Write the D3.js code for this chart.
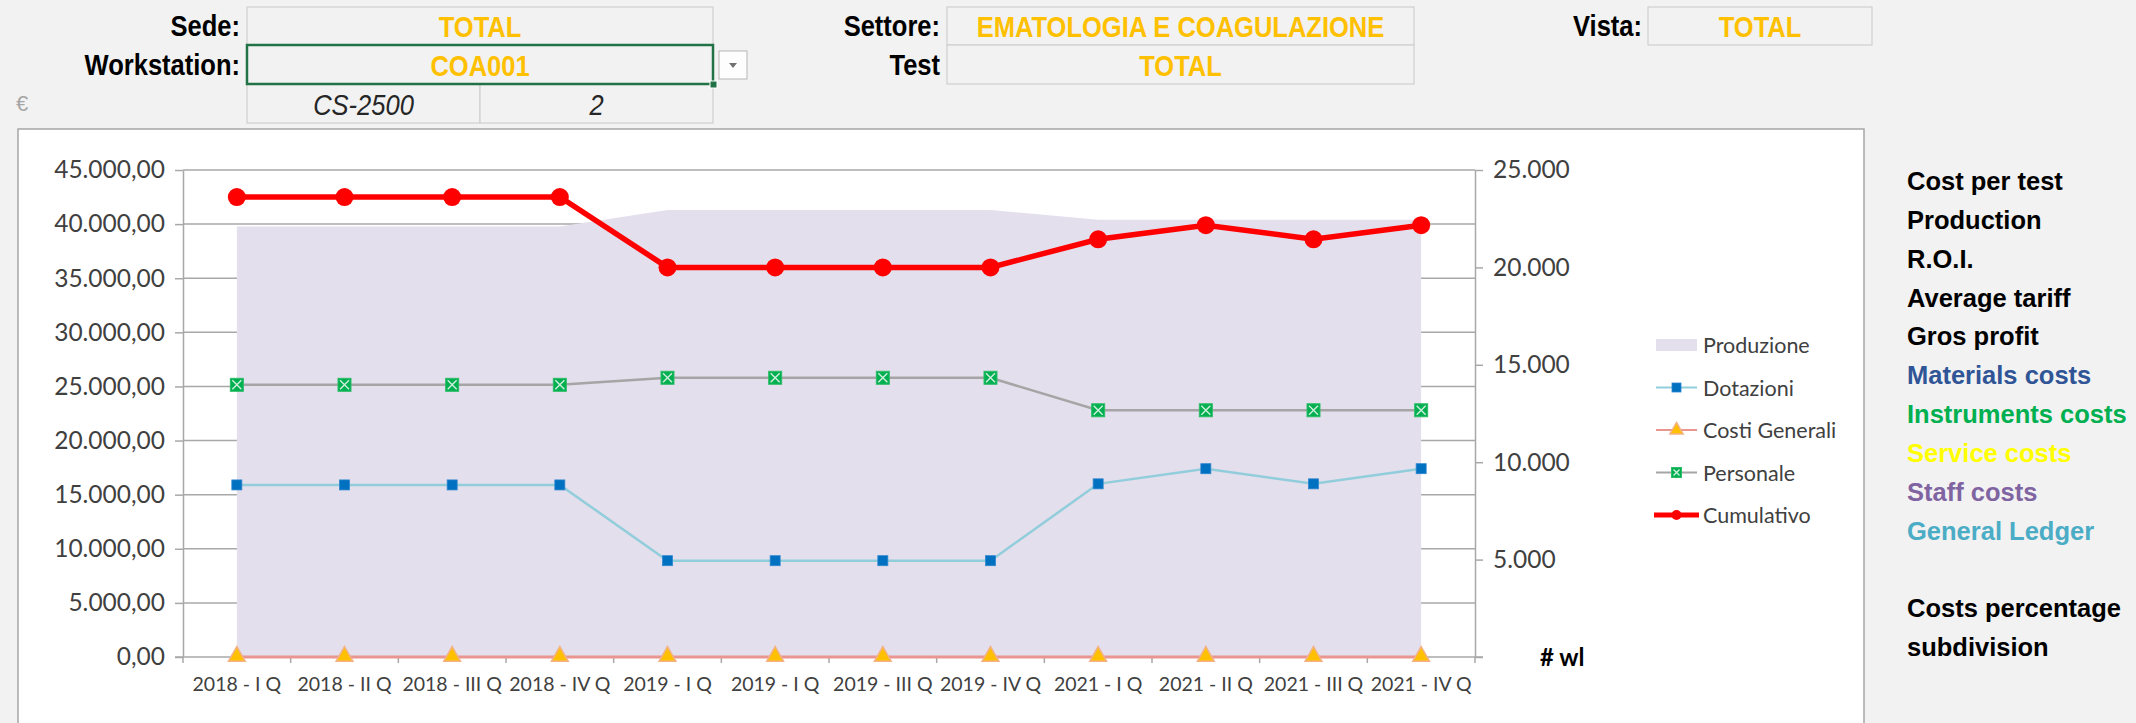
<!DOCTYPE html>
<html>
<head>
<meta charset="utf-8">
<script src="https://cdn.jsdelivr.net/npm/d3@7"></script>
<style>
  body { margin: 0; background: #f2f2f2; overflow: hidden; }
  .hdr { font-family: "Liberation Sans Narrow", "Arial Narrow", sans-serif; font-weight: bold; font-size: 29px; }
  .chart-text { font-family: Lato, "Open Sans", sans-serif; fill: #404040; }
  .side { font-family: "Liberation Sans", Arial, sans-serif; font-weight: bold; font-size: 25.5px; }
</style>
</head>
<body>
<div id="chart"></div>
<script>
// quarters on the x axis
const categories = ["2018 - I Q", "2018 - II Q", "2018 - III Q", "2018 - IV Q",
                    "2019 - I Q", "2019 - I Q", "2019 - III Q", "2019 - IV Q",
                    "2021 - I Q", "2021 - II Q", "2021 - III Q", "2021 - IV Q"];

// series (left axis, euro)
const dotazioni     = [15900, 15900, 15900, 15900, 8900, 8900, 8900, 8900, 16000, 17400, 16000, 17400];
const costiGenerali = [0, 0, 0, 0, 0, 0, 0, 0, 0, 0, 0, 0];
const personale     = [25150, 25150, 25150, 25150, 25800, 25800, 25800, 25800, 22800, 22800, 22800, 22800];
const cumulativo    = [42500, 42500, 42500, 42500, 36000, 36000, 36000, 36000, 38600, 39900, 38600, 39900];
// series (right axis, # wl)
const produzione    = [22100, 22100, 22100, 22100, 22950, 22950, 22950, 22950, 22450, 22450, 22450, 22450];

const leftTicks  = [0, 5000, 10000, 15000, 20000, 25000, 30000, 35000, 40000, 45000];
const rightTicks = [0, 5000, 10000, 15000, 20000, 25000];

const legendItems = ["Produzione", "Dotazioni", "Costi Generali", "Personale", "Cumulativo"];

const sideMenu = [
    { text: "Cost per test", color: "#000000" },
    { text: "Production", color: "#000000" },
    { text: "R.O.I.", color: "#000000" },
    { text: "Average tariff", color: "#000000" },
    { text: "Gros profit", color: "#000000" },
    { text: "Materials costs", color: "#2f5597" },
    { text: "Instruments costs", color: "#00b050" },
    { text: "Service costs", color: "#ffff00" },
    { text: "Staff costs", color: "#8064a2" },
    { text: "General Ledger", color: "#4bacc6" },
    { text: "", color: "#000000" },
    { text: "Costs percentage", color: "#000000" },
    { text: "subdivision", color: "#000000" }
];

const W = 2136, H = 723;
const svg = d3.select("#chart").append("svg")
    .attr("width", W)
    .attr("height", H);

// ---------- header cells (spreadsheet filter area) ----------
const cells = [
    { x: 247, y: 7,  w: 466, h: 38, text: "TOTAL" },
    { x: 247, y: 45, w: 466, h: 39, text: "COA001" },
    { x: 247, y: 84, w: 233, h: 39, text: "CS-2500", plain: true },
    { x: 480, y: 84, w: 233, h: 39, text: "2", plain: true },
    { x: 947, y: 7,  w: 467, h: 38, text: "EMATOLOGIA E COAGULAZIONE" },
    { x: 947, y: 45, w: 467, h: 39, text: "TOTAL" },
    { x: 1648, y: 7, w: 224, h: 38, text: "TOTAL" }
];
const labels = [
    { x: 240, y: 26, text: "Sede:" },
    { x: 240, y: 65, text: "Workstation:" },
    { x: 940, y: 26, text: "Settore:" },
    { x: 940, y: 65, text: "Test" },
    { x: 1642, y: 26, text: "Vista:" }
];
const squeeze = 0.88; // condensed look of the sheet font

svg.selectAll(".cell").data(cells).join("rect")
    .attr("class", "cell")
    .attr("x", d => d.x).attr("y", d => d.y)
    .attr("width", d => d.w).attr("height", d => d.h)
    .attr("fill", "#f2f2f2")
    .attr("stroke", "#cfcfcf")
    .attr("stroke-width", 1.2);

svg.selectAll(".cell-text").data(cells).join("text")
    .attr("class", "hdr")
    .attr("transform", d => `translate(${d.x + d.w / 2},${d.y + d.h / 2 + 1}) scale(${squeeze},1)`)
    .attr("text-anchor", "middle")
    .attr("dominant-baseline", "central")
    .style("font-weight", d => d.plain ? "normal" : "bold")
    .style("font-style", d => d.plain ? "italic" : "normal")
    .attr("fill", d => d.plain ? "#262626" : "#ffc000")
    .text(d => d.text);

svg.selectAll(".lbl").data(labels).join("text")
    .attr("class", "hdr")
    .attr("transform", d => `translate(${d.x},${d.y}) scale(${squeeze},1)`)
    .attr("text-anchor", "end")
    .attr("dominant-baseline", "central")
    .attr("fill", "#000")
    .text(d => d.text);

// selected cell outline + fill handle
svg.append("rect")
    .attr("x", 247).attr("y", 45).attr("width", 466).attr("height", 39)
    .attr("fill", "none").attr("stroke", "#217346").attr("stroke-width", 2.5);
svg.append("rect")
    .attr("x", 710).attr("y", 81).attr("width", 7).attr("height", 7)
    .attr("fill", "#217346").attr("stroke", "#fff").attr("stroke-width", 1);

// dropdown button
svg.append("rect")
    .attr("x", 719).attr("y", 51).attr("width", 28).attr("height", 28)
    .attr("fill", "#fdfdfd").attr("stroke", "#b5b5b5").attr("stroke-width", 1);
svg.append("path")
    .attr("d", "M729,63 L737,63 L733,68 Z")
    .attr("fill", "#707070");

svg.append("text")
    .attr("x", 16).attr("y", 103)
    .attr("dominant-baseline", "central")
    .style("font-family", "Liberation Sans Narrow, sans-serif")
    .style("font-size", "22px")
    .attr("fill", "#a6a6a6")
    .text("€");

// ---------- chart box ----------
svg.append("rect")
    .attr("x", 18).attr("y", 129).attr("width", 1846).attr("height", 620)
    .attr("fill", "#ffffff")
    .attr("stroke", "#a6a6a6")
    .attr("stroke-width", 1.5);

const plot = { left: 183, right: 1475, top: 170, bottom: 657 };

const x = d3.scaleBand()
    .domain(d3.range(categories.length))
    .range([plot.left, plot.right])
    .padding(0);

const yL = d3.scaleLinear().domain([0, 45000]).range([plot.bottom, plot.top]);
const yR = d3.scaleLinear().domain([0, 25000]).range([plot.bottom, plot.top]);

const itLocale = d3.formatLocale({ decimal: ",", thousands: ".", grouping: [3], currency: ["€", ""] });
const fmtLeft = itLocale.format(",.2f");
const fmtRight = itLocale.format(",.0f");

const cx = i => x(i) + x.bandwidth() / 2;
const gridColor = "#a8a8a8";

// gridlines (left axis)
svg.append("g").selectAll("line").data(leftTicks.filter(v => v > 0)).join("line")
    .attr("x1", plot.left).attr("x2", plot.right)
    .attr("y1", d => yL(d)).attr("y2", d => yL(d))
    .attr("stroke", gridColor).attr("stroke-width", 1.5);

// Produzione area (right axis), drawn over the grid
svg.append("path")
    .datum(produzione)
    .attr("d", d3.area()
        .x((d, i) => cx(i))
        .y0(yR(0))
        .y1(d => yR(d)))
    .attr("fill", "#e4dfec");

// left axis
const axL = svg.append("g")
    .attr("transform", `translate(${plot.left},0)`)
    .call(d3.axisLeft(yL).tickValues(leftTicks).tickSize(8).tickSizeOuter(0).tickPadding(10).tickFormat(fmtLeft));
axL.select(".domain").attr("stroke", gridColor).attr("stroke-width", 1.5);
axL.selectAll(".tick line").attr("stroke", gridColor).attr("stroke-width", 1.5);
axL.selectAll("text").attr("class", "chart-text").style("font-size", "24.5px").attr("fill", "#3a3a3a");

// right axis
const axR = svg.append("g")
    .attr("transform", `translate(${plot.right},0)`)
    .call(d3.axisRight(yR).tickValues(rightTicks).tickSize(8).tickSizeOuter(0).tickPadding(10)
        .tickFormat(d => d === 0 ? "" : fmtRight(d)));
axR.select(".domain").attr("stroke", gridColor).attr("stroke-width", 1.5);
axR.selectAll(".tick line").attr("stroke", gridColor).attr("stroke-width", 1.5);
axR.selectAll("text").attr("class", "chart-text").style("font-size", "24.5px").attr("fill", "#3a3a3a");

svg.append("text")
    .attr("x", 1540).attr("y", 656)
    .attr("dominant-baseline", "central")
    .style("font-family", "Lato, sans-serif")
    .style("font-weight", "bold")
    .style("font-size", "24px")
    .attr("fill", "#000")
    .text("# wl");

// bottom axis: baseline + ticks between categories
svg.append("line")
    .attr("x1", plot.left - 8).attr("x2", plot.right + 8)
    .attr("y1", plot.bottom).attr("y2", plot.bottom)
    .attr("stroke", gridColor).attr("stroke-width", 1.5);
svg.append("g").selectAll("line").data(d3.range(categories.length + 1)).join("line")
    .attr("x1", i => plot.left + i * x.step())
    .attr("x2", i => plot.left + i * x.step())
    .attr("y1", plot.bottom).attr("y2", plot.bottom + 6)
    .attr("stroke", gridColor).attr("stroke-width", 1.5);
svg.append("g").selectAll("text").data(categories).join("text")
    .attr("class", "chart-text")
    .attr("x", (d, i) => cx(i))
    .attr("y", 683)
    .attr("text-anchor", "middle")
    .attr("dominant-baseline", "central")
    .style("font-size", "19.5px")
    .attr("fill", "#3a3a3a")
    .text(d => d);

// ---------- line series ----------
const lineGen = d3.line().x((d, i) => cx(i)).y(d => yL(d));

// Costi Generali
svg.append("path").datum(costiGenerali)
    .attr("d", lineGen).attr("fill", "none")
    .attr("stroke", "#e8968f").attr("stroke-width", 3);

// Personale
svg.append("path").datum(personale)
    .attr("d", lineGen).attr("fill", "none")
    .attr("stroke", "#a5a5a5").attr("stroke-width", 2.5);

// Dotazioni
svg.append("path").datum(dotazioni)
    .attr("d", lineGen).attr("fill", "none")
    .attr("stroke", "#92cddc").attr("stroke-width", 2.5);

// Cumulativo
svg.append("path").datum(cumulativo)
    .attr("d", lineGen).attr("fill", "none")
    .attr("stroke", "#ff0000").attr("stroke-width", 5.5);

// markers
function drawTriangle(g, px, py, s) {
    g.append("path")
        .attr("d", `M${px},${py - s * 0.6} L${px + s * 0.6},${py + s * 0.45} L${px - s * 0.6},${py + s * 0.45} Z`)
        .attr("fill", "#ffc000").attr("stroke", "#f4b183").attr("stroke-width", 1.5);
}
function drawXSquare(g, px, py, s) {
    g.append("rect")
        .attr("x", px - s / 2).attr("y", py - s / 2).attr("width", s).attr("height", s)
        .attr("fill", "#00b050").attr("stroke", "#2dbd68").attr("stroke-width", 1);
    g.append("path")
        .attr("d", `M${px - s / 2 + 2},${py - s / 2 + 2} L${px + s / 2 - 2},${py + s / 2 - 2} M${px + s / 2 - 2},${py - s / 2 + 2} L${px - s / 2 + 2},${py + s / 2 - 2}`)
        .attr("stroke", "#cfeedd").attr("stroke-width", 1.4);
}
function drawSquare(g, px, py, s) {
    g.append("rect")
        .attr("x", px - s / 2).attr("y", py - s / 2).attr("width", s).attr("height", s)
        .attr("fill", "#0070c0").attr("stroke", "#2e86cf").attr("stroke-width", 0.8);
}
function drawCircle(g, px, py, r) {
    g.append("circle").attr("cx", px).attr("cy", py).attr("r", r).attr("fill", "#ff0000");
}

const mk = svg.append("g");
costiGenerali.forEach((v, i) => drawTriangle(mk, cx(i), yL(v) - 2, 14));
personale.forEach((v, i) => drawXSquare(mk, cx(i), yL(v), 13));
dotazioni.forEach((v, i) => drawSquare(mk, cx(i), yL(v), 10));
cumulativo.forEach((v, i) => drawCircle(mk, cx(i), yL(v), 9));

// ---------- legend ----------
const legY = d3.scalePoint().domain(legendItems).range([345, 515]);
const leg = svg.append("g");
const lx0 = 1656, lx1 = 1697;
legendItems.forEach(name => {
    const ly = legY(name);
    const g = leg.append("g");
    if (name === "Produzione") {
        g.append("rect").attr("x", lx0).attr("y", ly - 6).attr("width", lx1 - lx0).attr("height", 12).attr("fill", "#e4dfec");
    } else if (name === "Dotazioni") {
        g.append("line").attr("x1", lx0).attr("x2", lx1).attr("y1", ly).attr("y2", ly).attr("stroke", "#92cddc").attr("stroke-width", 2);
        drawSquare(g, (lx0 + lx1) / 2, ly, 9);
    } else if (name === "Costi Generali") {
        g.append("line").attr("x1", lx0).attr("x2", lx1).attr("y1", ly).attr("y2", ly).attr("stroke", "#e8968f").attr("stroke-width", 2);
        drawTriangle(g, (lx0 + lx1) / 2, ly - 1, 11);
    } else if (name === "Personale") {
        g.append("line").attr("x1", lx0).attr("x2", lx1).attr("y1", ly).attr("y2", ly).attr("stroke", "#a5a5a5").attr("stroke-width", 2);
        drawXSquare(g, (lx0 + lx1) / 2, ly, 10);
    } else {
        g.append("line").attr("x1", lx0 - 2).attr("x2", lx1 + 2).attr("y1", ly).attr("y2", ly).attr("stroke", "#ff0000").attr("stroke-width", 5);
        drawCircle(g, (lx0 + lx1) / 2, ly, 5);
    }
    g.append("text")
        .attr("class", "chart-text")
        .attr("x", 1703).attr("y", ly)
        .attr("dominant-baseline", "central")
        .style("font-size", "21.5px")
        .attr("fill", "#3a3a3a")
        .text(name);
});

// ---------- side menu ----------
const sideY = d3.scaleLinear().domain([0, sideMenu.length - 1]).range([181, 647]);
svg.append("g").selectAll("text").data(sideMenu).join("text")
    .attr("class", "side")
    .attr("x", 1907)
    .attr("y", (d, i) => sideY(i))
    .attr("dominant-baseline", "central")
    .attr("fill", d => d.color)
    .text(d => d.text);
</script>
</body>
</html>
